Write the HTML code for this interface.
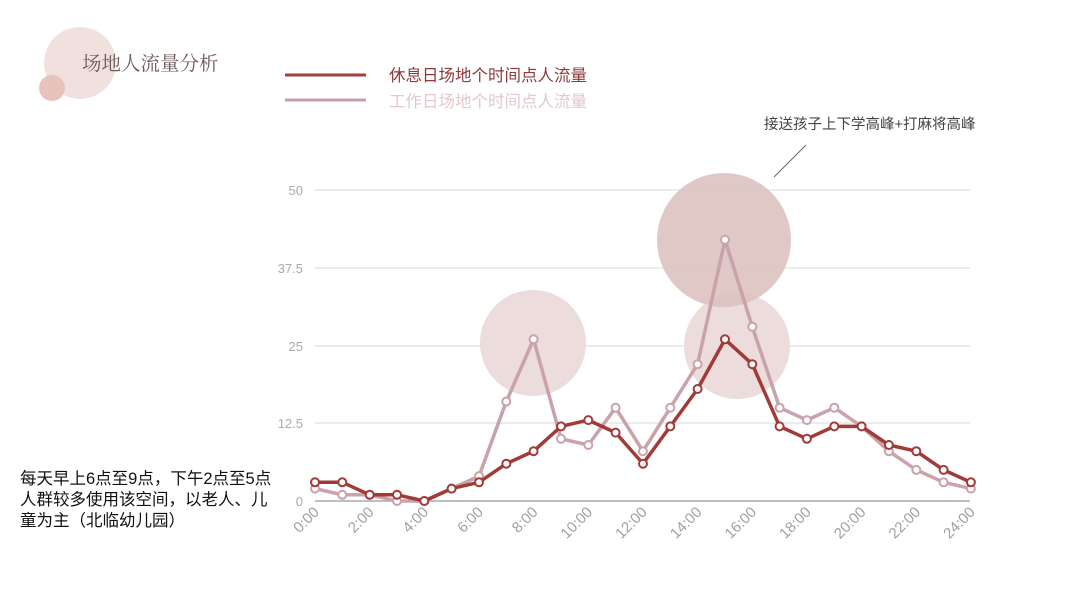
<!DOCTYPE html>
<html><head><meta charset="utf-8"><style>
html,body{margin:0;padding:0;background:#fff;}
body{width:1080px;height:608px;overflow:hidden;position:relative;font-family:"Liberation Sans","Noto Sans CJK SC",sans-serif;}
svg{position:absolute;left:0;top:0;}
</style></head><body>
<svg id="s" width="1080" height="608" xmlns="http://www.w3.org/2000/svg">
<circle cx="80" cy="63" r="36" fill="#f0e1df"/>
<circle cx="52" cy="88" r="13" fill="#e8c3bb"/>
<text x="82" y="70" font-family="'Liberation Serif','Noto Serif CJK SC',serif" font-size="19.5" fill="#6e5a58">场地人流量分析</text>
<line x1="285" y1="75" x2="366" y2="75" stroke="#a2403e" stroke-width="3"/>
<line x1="285" y1="100" x2="366" y2="100" stroke="#c4a0a6" stroke-width="3"/>
<text x="389" y="81" font-size="16.5" fill="#8f3a3a">休息日场地个时间点人流量</text>
<text x="389" y="107" font-size="16.5" fill="#e3c8cc">工作日场地个时间点人流量</text>
<text x="764" y="129" font-size="14.5" fill="#444">接送孩子上下学高峰+打麻将高峰</text>
<line x1="774" y1="177" x2="806" y2="145" stroke="#666" stroke-width="1"/>
<g stroke="#d8d8d8" stroke-width="1">
<line x1="315" y1="190" x2="970" y2="190"/>
<line x1="315" y1="268" x2="970" y2="268"/>
<line x1="315" y1="346" x2="970" y2="346"/>
<line x1="315" y1="423" x2="970" y2="423"/>
</g>
<line x1="315" y1="501" x2="970" y2="501" stroke="#aaa" stroke-width="1.5"/>
<g font-size="13" fill="#aaa" text-anchor="end">
<text x="303" y="195">50</text><text x="303" y="273">37.5</text><text x="303" y="351">25</text><text x="303" y="428">12.5</text><text x="303" y="506">0</text>
</g>
<circle cx="533" cy="343" r="53" fill="#ecdcdc"/>
<circle cx="737" cy="346" r="53" fill="#ecdcdc"/>
<circle cx="724" cy="240" r="67" fill="#dcc2c0" opacity="0.9"/>
<g id="g"></g>
<text x="20" y="484" font-size="16.5" fill="#111">每天早上6点至9点，下午2点至5点</text>
<text x="20" y="505" font-size="16.5" fill="#111">人群较多使用该空间，以老人、儿</text>
<text x="20" y="526" font-size="16.5" fill="#111">童为主（北临幼儿园）</text>
</svg>
<script>
var h=[3,3,1,1,0,2,3,6,8,12,13,11,6,12,18,26,22,12,10,12,12,9,8,5,3];
var w=[2,1,1,0,0,2,4,16,26,10,9,15,8,15,22,42,28,15,13,15,12,8,5,3,2];
var X=function(i){return 315+27.33*i},Y=function(v){return 501-6.22*v};
var s='';
function line(d,c){var p=d.map(function(v,i){return X(i).toFixed(1)+','+Y(v).toFixed(1)}).join(' ');
s+='<polyline points="'+p+'" fill="none" stroke="'+c+'" stroke-width="3.5" stroke-linejoin="round"/>';
d.forEach(function(v,i){s+='<circle cx="'+X(i).toFixed(1)+'" cy="'+Y(v).toFixed(1)+'" r="4" fill="#fff" stroke="'+c+'" stroke-width="2"/>';});}
line(w,'#c9a2aa');line(h,'#a23a38');
for(var i=0;i<=24;i+=2){var x=X(i)+5,y=513;s+='<text x="'+x+'" y="'+y+'" font-size="15" fill="#a0a0a0" text-anchor="end" transform="rotate(-45 '+x+' '+y+')">'+i+':00</text>';}
document.getElementById('g').innerHTML=s;
</script>
</body></html>
